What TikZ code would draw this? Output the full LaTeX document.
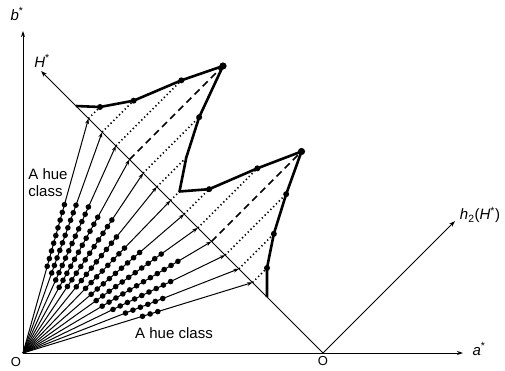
\documentclass[tikz,border=0pt]{standalone}
\usepackage{fontspec}
\setmainfont{Liberation Sans}
\usetikzlibrary{calc, arrows.meta}

\begin{document}
\begin{tikzpicture}[x=1pt, y=1pt, >={Stealth[length=6pt, width=4pt]}, line width=0.9pt,
    font=\fontsize{15}{17}\selectfont,
    rim/.style={line width=2.6pt, line join=round},
    proj/.style={line width=1.6pt, dash pattern=on 1.3pt off 2.7pt},
    tipproj/.style={line width=1.6pt, dash pattern=on 7pt off 4.5pt},
    ray/.style={line width=1pt, -{Stealth[length=5.5pt, width=3.8pt]}}]
    \useasboundingbox (-23,-17) rectangle (482,353);
    \coordinate (O) at (0,0);  \coordinate (O2) at (300,0);
    \coordinate (btop) at (0,322);  \coordinate (aend) at (440,0);
    \coordinate (Hend) at (18,282);  \coordinate (h2end) at (432,132);
    \draw[->] (O) -- (btop);
    \draw[->] (O) -- (aend);
    \draw[->] (O2) -- (Hend);
    \draw[->] (O2) -- (h2end);

    % hue lines, their chips and feet on the H* line
    \foreach \i/\hh/\din/\dout in {0/11.5/90/154, 1/31.5/85/158, 2/65.5/80/160,
        3/93.5/75/160, 4/56/80/160, 5/29.5/85/155, 6/9/90/150, 7/25/90/155,
        8/59.5/90/170, 9/90/92/180, 10/61/100/165, 11/35/110/150, 12/14.5/125/141} {
      \pgfmathsetmacro\sval{234.5-13.667*\i}
      \coordinate (F\i) at ({300-\sval},\sval);
      \coordinate (Q\i) at ($(F\i)+(\hh,\hh)$);
      \draw[ray] (O) -- (F\i);
      \pgfmathtruncatemacro\ndots{(\dout-\din)/8}
      \foreach \k in {0,...,\ndots} {
        \pgfmathsetmacro\dist{\din+8*\k}
        \fill ($(O)!\dist pt!(F\i)$) circle (2.8);
      }
    }

    % projections onto H*
    \foreach \i in {0,1,2,4,5,6,7,8,10,11,12} \draw[proj] (F\i) -- (Q\i);
    \draw[tipproj] (F3) -- (Q3);
    \draw[tipproj] (F9) -- (Q9);

    % boundary
    \coordinate (B1) at (53,247);  \coordinate (B14) at (244,56);
    \draw[rim] (B1) -- (Q0) -- (Q1) -- (Q2) -- (Q3) -- (Q4) -- (Q5) -- (Q6)
      -- (Q7) -- (Q8) -- (Q9) -- (Q10) -- (Q11) -- (Q12) -- (B14);
    \foreach \i in {0,1,2,4,7,8,10,11,12} \fill (Q\i) circle (3);
    \fill (Q3) circle (3.6);  \fill (Q9) circle (3.6);

    \node (bs) at (-6,339) {\textit{b}\textsuperscript{*}};
    \node (hs) at (19,292) {\textit{H}\textsuperscript{*}};
    \node[align=left] (hcl) at (25,170) {A hue\\class};
    \node (hcb) at (151,20) {A hue class};
    \node[font=\fontsize{13}{15}\selectfont] (o1) at (-7,-9) {O};
    \node[font=\fontsize{13}{15}\selectfont] (o2) at (300,-8) {O};
    \node (as) at (456,4) {\textit{a}\textsuperscript{*}};
    \node (h2) at (457,138) {\textit{h}\textsubscript{2}(\textit{H}\textsuperscript{*})};
\end{tikzpicture}
\end{document}
